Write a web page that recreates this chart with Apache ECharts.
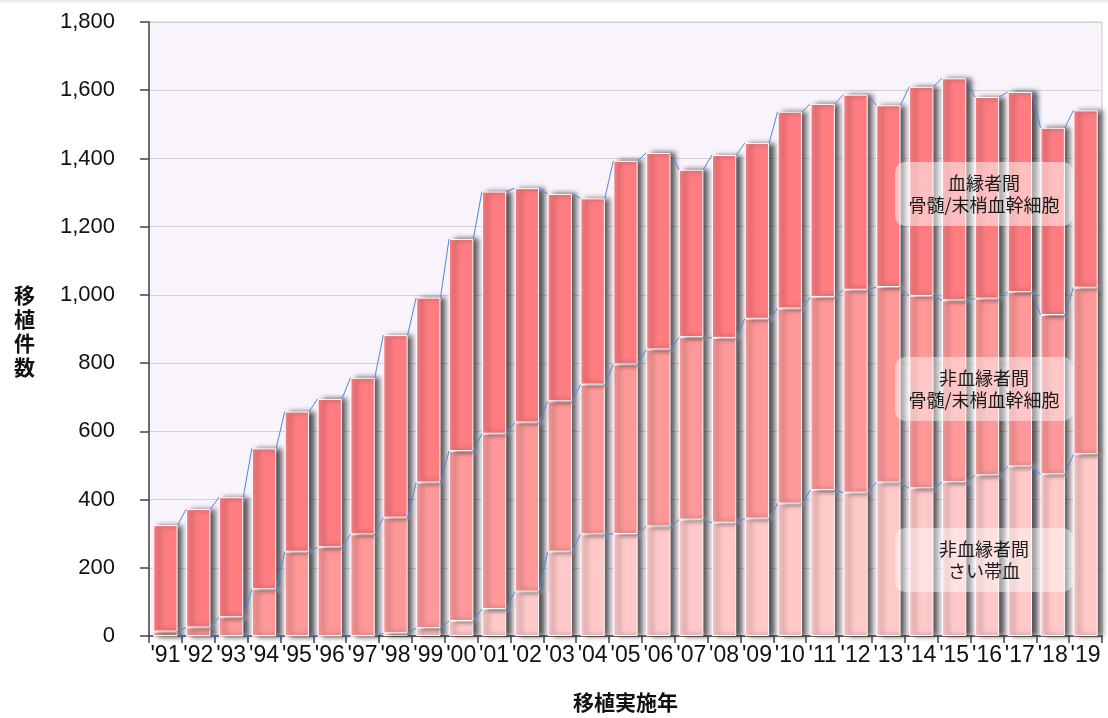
<!DOCTYPE html>
<html>
<head>
<meta charset="utf-8">
<script src="https://cdn.jsdelivr.net/npm/echarts@6/dist/echarts.min.js"></script>
<style>
html,body{margin:0;padding:0;background:#fff;}
#chart{width:1108px;height:718px;}
</style>
</head>
<body>
<div id="chart"></div>
<script>
const years = ["'91","'92","'93","'94","'95","'96","'97","'98","'99","'00","'01","'02","'03","'04","'05","'06","'07","'08","'09","'10","'11","'12","'13","'14","'15","'16","'17","'18","'19"];
// 非血縁者間 さい帯血
const cordBlood = [0,0,0,0,0,0,0,8,23,44,79,130,247,298,299,321,341,332,344,388,428,420,450,433,451,471,497,474,533];
// 非血縁者間 骨髄/末梢血幹細胞
const unrelatedBmPb = [13,25,55,137,247,260,298,339,427,498,514,496,441,439,497,519,535,542,586,572,566,595,573,564,533,518,511,467,488];
// 血縁者間 骨髄/末梢血幹細胞
const relatedBmPb = [312,347,352,413,411,435,459,535,542,622,710,687,608,546,597,576,491,536,515,577,566,572,533,613,651,591,587,549,520];
const yTicks = [0,200,400,600,800,1000,1200,1400,1600,1800];

const seriesNames = ['非血縁者間\nさい帯血','非血縁者間\n骨髄/末梢血幹細胞','血縁者間\n骨髄/末梢血幹細胞'];
const colors = ['#ffc9c9','#ff9999','#ff7c80'];
const BAR_RATIO = 0.74;

const layers = [cordBlood, unrelatedBmPb, relatedBmPb];
const cumulative = [];
let run = years.map(() => 0);
layers.forEach(arr => { run = run.map((v, i) => v + arr[i]); cumulative.push(run.slice()); });

function seriesLineData(cum) {
  const out = [];
  for (let i = 0; i < cum.length - 1; i++) out.push([i, cum[i], cum[i + 1]]);
  return out;
}

const chart = echarts.init(document.getElementById('chart'), null, {renderer: 'canvas'});

const barSeries = layers.map((arr, k) => ({
  type: 'bar',
  name: seriesNames[k],
  stack: 'total',
  data: arr,
  barWidth: (BAR_RATIO * 100) + '%',
  itemStyle: {
    color: colors[k],
    borderColor: '#ffffff',
    borderWidth: 1,
    shadowColor: 'rgba(30,30,30,0.75)',
    shadowBlur: 5,
    shadowOffsetX: 5,
    shadowOffsetY: 0
  },
  z: 2
}));

const lineSeries = cumulative.map((cum, k) => ({
  type: 'custom',
  name: 'line' + k,
  data: seriesLineData(cum),
  encode: {x: 0, y: 1},
  z: 3,
  silent: true,
  renderItem: function (params, api) {
    const i = api.value(0);
    const p0 = api.coord([i, api.value(1)]);
    const p1 = api.coord([i + 1, api.value(2)]);
    const bw = api.size([1, 0])[0] * BAR_RATIO;
    return {
      type: 'line',
      shape: {x1: p0[0] + bw / 2, y1: p0[1], x2: p1[0] - bw / 2, y2: p1[1]},
      style: {stroke: '#4f86dd', lineWidth: 1}
    };
  }
}));

function labelBox(x, y, lines, fill) {
  return {
    type: 'group', left: x, top: y, z: 100,
    children: [
      {type: 'rect', z: 100, shape: {x: 0, y: 0, width: 178, height: 64, r: 10}, style: {fill: fill}},
      {type: 'text', z: 101, style: {x: 89, y: 32, text: lines, fill: '#1a1a1a', align: 'center', verticalAlign: 'middle',
        font: '18px "Noto Sans CJK JP"', lineHeight: 22}}
    ]
  };
}

chart.setOption({
  animation: false,
  backgroundColor: '#ffffff',
  grid: {left: 149, right: 6, top: 22, bottom: 81, show: true, backgroundColor: '#f9f3fb', borderColor: '#c8c8c8', borderWidth: 1},
  xAxis: {
    type: 'category',
    data: years,
    axisLine: {lineStyle: {color: '#444', width: 1.5}},
    axisTick: {show: true, length: 7, lineStyle: {color: '#444', width: 1.5}},
    axisLabel: {color: '#111', fontSize: 23, fontFamily: 'Liberation Sans', margin: 8, interval: 0},
    name: '移植実施年',
    nameLocation: 'middle',
    nameGap: 56,
    nameTextStyle: {color: '#111', fontSize: 21, fontWeight: 'bold', fontFamily: 'Noto Sans CJK JP'}
  },
  yAxis: {
    type: 'value',
    min: yTicks[0],
    max: yTicks[yTicks.length - 1],
    interval: yTicks[1] - yTicks[0],
    axisLine: {show: true, lineStyle: {color: '#444', width: 1.5}},
    axisTick: {show: true, length: 9, lineStyle: {color: '#444', width: 1.5}},
    axisLabel: {color: '#111', fontSize: 22, fontFamily: 'Liberation Sans', margin: 34,
      formatter: v => v.toLocaleString('en-US')},
    splitLine: {lineStyle: {color: '#d2d2d2', width: 1}}
  },
  graphic: [
    {type: 'rect', left: 0, top: 0, z: 100, shape: {x: 0, y: 0, width: 1108, height: 4},
      style: {fill: new echarts.graphic.LinearGradient(0, 0, 0, 1, [{offset: 0, color: '#e3e6e8'}, {offset: 1, color: '#ffffff'}])}},
    {type: 'text', left: 14, top: 283, z: 100, style: {text: '移\n植\n件\n数', fill: '#111', font: 'bold 21px "Noto Sans CJK JP"', lineHeight: 24}},
    labelBox(895, 162, '血縁者間\n骨髄/末梢血幹細胞', 'rgba(255,255,255,0.5)'),
    labelBox(895, 357, '非血縁者間\n骨髄/末梢血幹細胞', 'rgba(255,255,255,0.45)'),
    labelBox(895, 528, '非血縁者間\nさい帯血', 'rgba(255,255,255,0.45)')
  ],
  series: barSeries.concat(lineSeries)
});
</script>
</body>
</html>
